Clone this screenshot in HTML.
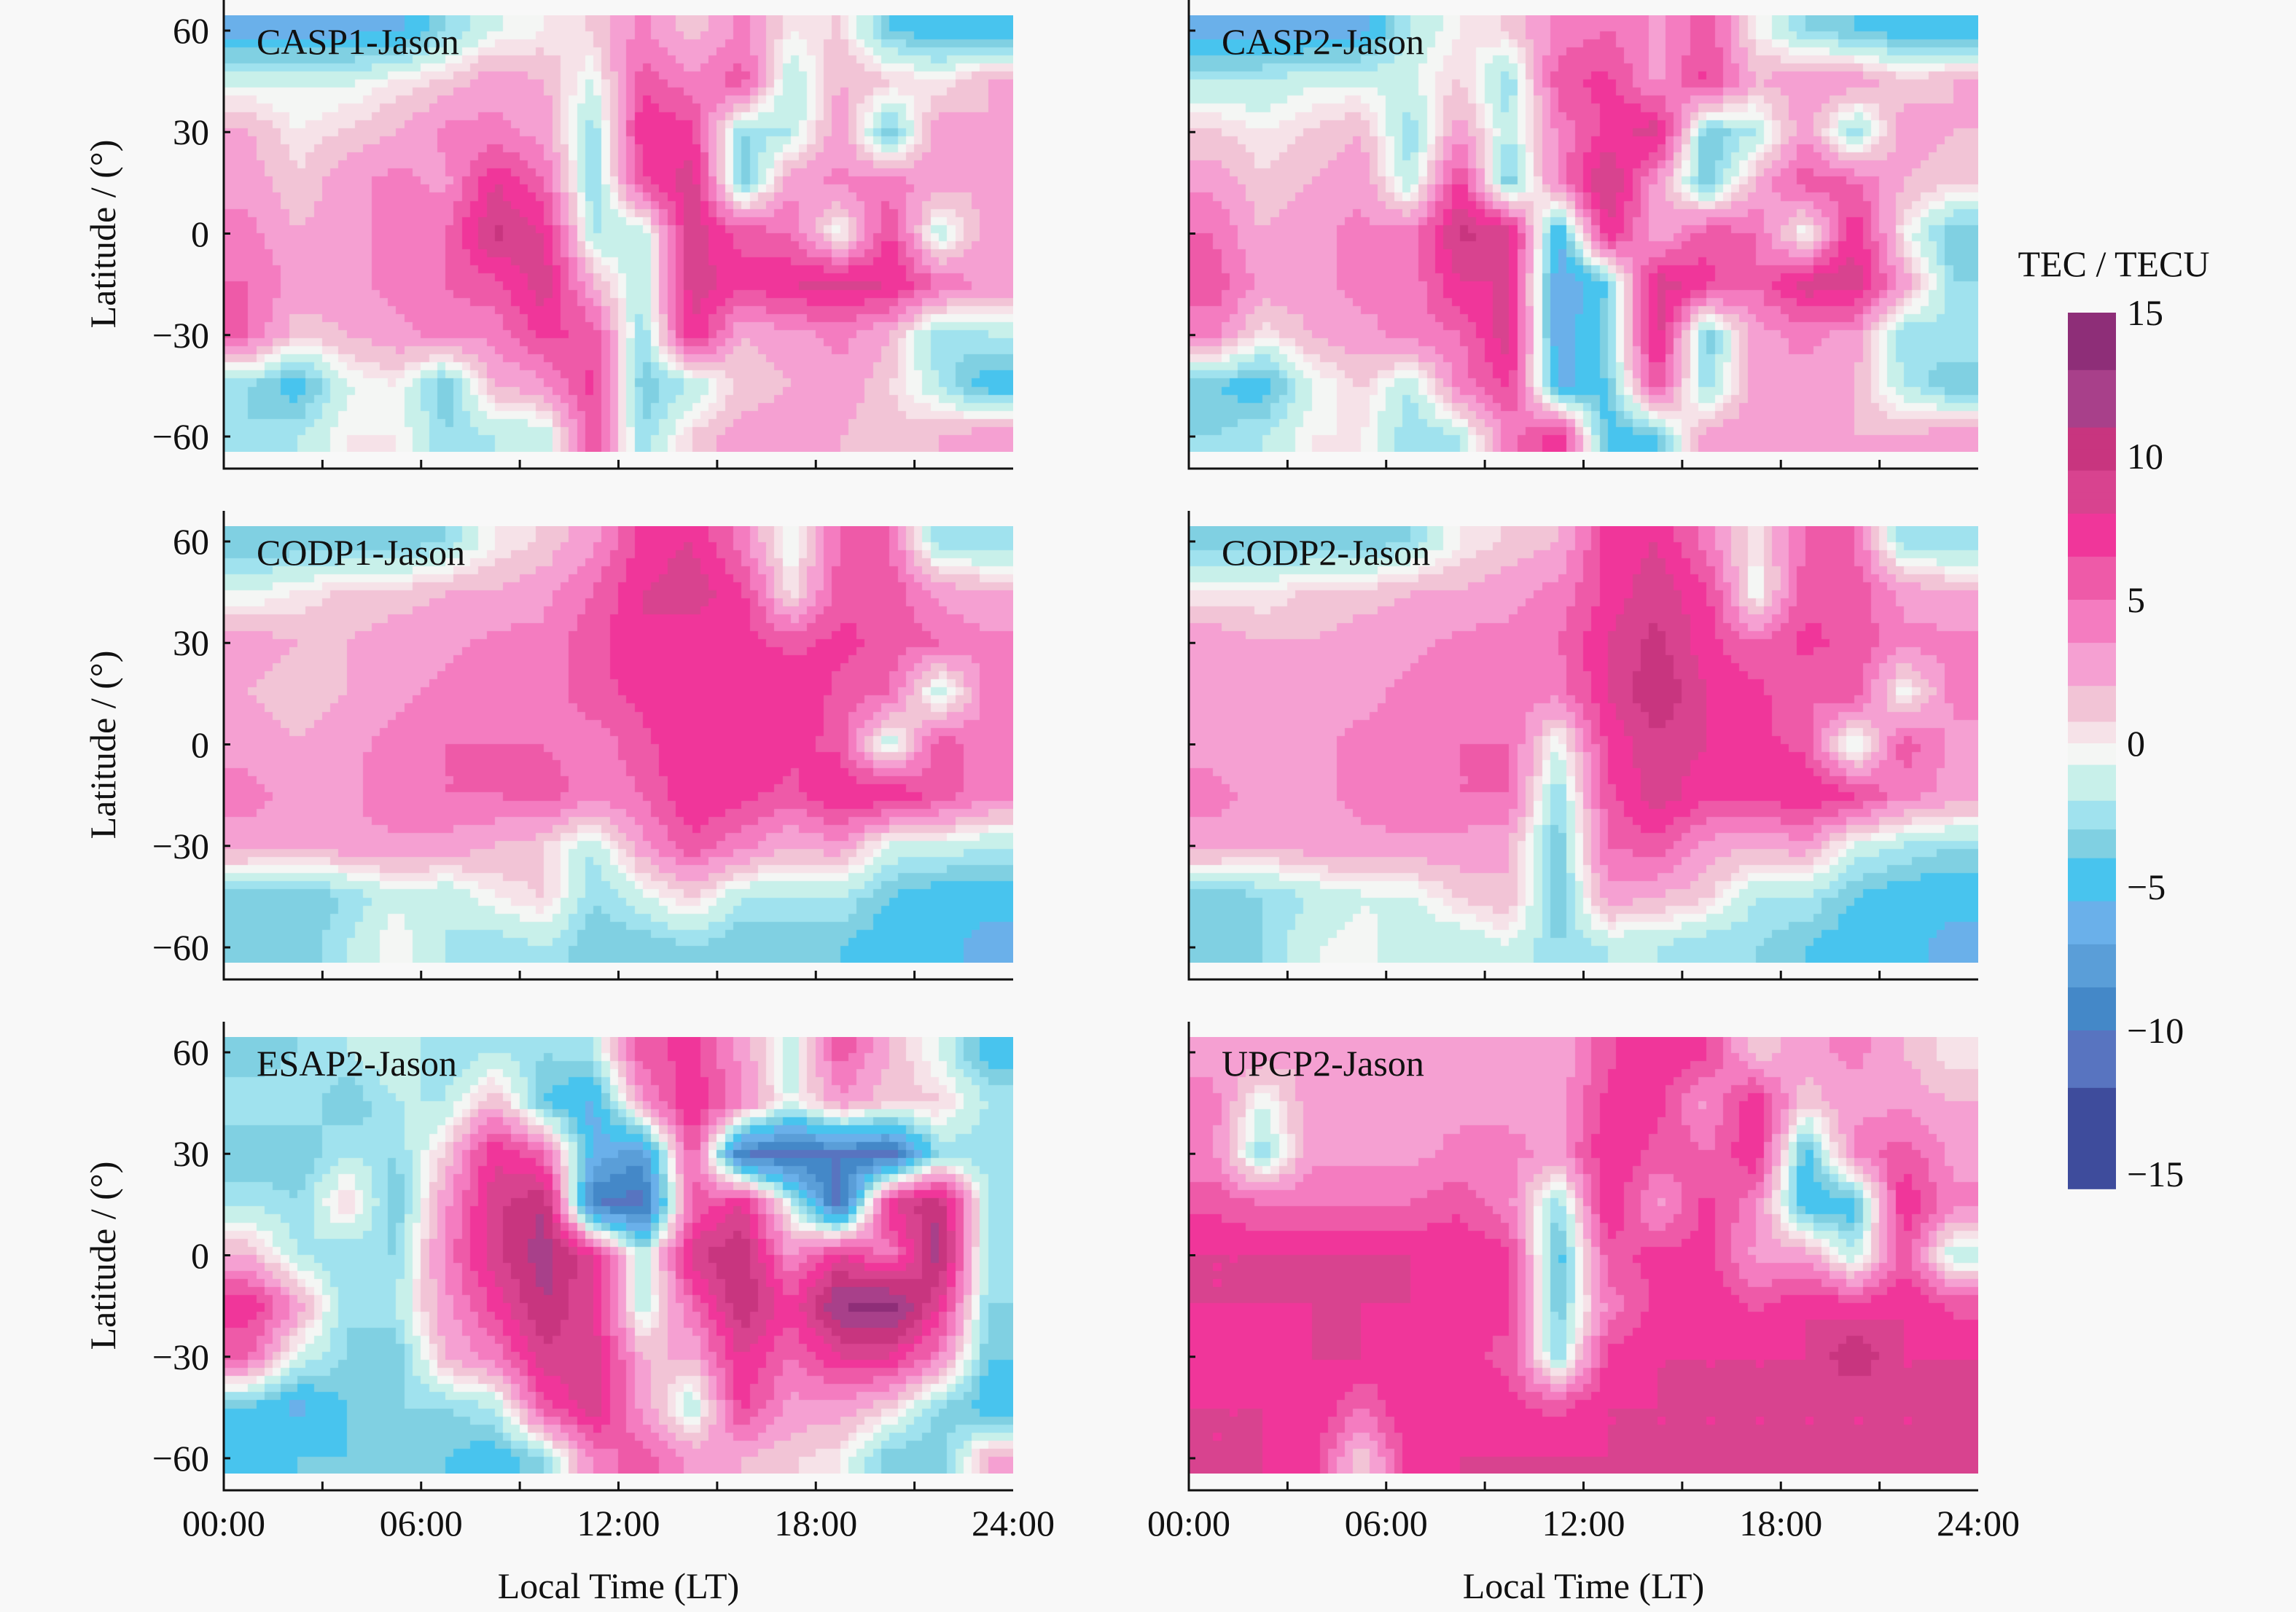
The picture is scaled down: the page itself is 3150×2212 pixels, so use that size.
<!DOCTYPE html>
<html><head><meta charset="utf-8">
<style>
html,body{margin:0;padding:0;background:#f8f8f8;}
#root{position:relative;width:3150px;height:2212px;background:#f8f8f8;overflow:hidden;font-family:"Liberation Serif",serif;color:#111;}
.lbl{position:absolute;font-size:50px;line-height:1;white-space:nowrap;}
canvas{position:absolute;}
</style></head>
<body>
<div id="root">
<svg id="axes" width="3150" height="2212" style="position:absolute;left:0;top:0;z-index:2"></svg>
</div>
<script>
// ---- data: rows are latitudes, columns are local-time bins ----
const latRows = [60,45,30,15,0,-15,-30,-45,-60];
const timeCols = [0.75,2.25,3.75,5.25,6.75,8.25,9.75,11.25,12.75,14.25,15.75,17.25,18.75,20.25,21.75,23.25];
const panelNames = ["CASP1-Jason","CASP2-Jason","CODP1-Jason","CODP2-Jason","ESAP2-Jason","UPCP2-Jason"];
const xTickLabels = ["00:00","06:00","12:00","18:00","24:00"];
const yTickValues = [60,30,0,-30,-60];
const cbarTicks = [15,10,5,0,-5,-10,-15];
const casp1 = [
[-6,-6,-6,-6,-3,-1,0,1,4,1,4,0,1,-4,-5,-5],
[-1,-1,-1,0,1,3,2,-1,6,4,6,-2,2,1,0,2],
[2,0,1,2,4,4,3,-3,8,7,-3,-2,3,-4,3,2],
[3,1,3,4,3,8,5,-3,6,9,-4,3,4,4,3,2],
[4,2,3,4,5,10,8,-2,-2,9,6,5,-1,7,-2,3],
[5,3,3,4,5,6,9,2,-2,9,7,8,9,8,5,3],
[5,1,2,3,4,4,7,6,-3,8,2,3,4,2,-3,-2],
[-3,-5,-1,0,-4,2,3,7,-4,-2,1,2,3,1,-2,-5],
[-3,-2,0,0,-3,-2,-2,6,-3,1,3,3,2,1,2,3]];
const casp2 = [
[-6,-6,-6,-6,-2,0,1,4,5,3,6,0,-3,-4,-5,-5],
[-2,-2,-1,-1,-1,1,-3,6,7,3,7,2,3,3,1,2],
[1,0,1,2,-3,3,-2,4,7,9,-4,-2,3,-3,3,2],
[3,1,2,3,-2,7,-4,4,10,3,-4,2,6,5,2,1],
[5,2,3,4,4,10,9,-6,8,2,6,5,-1,8,0,-4],
[6,3,3,4,4,8,8,-7,-4,9,7,5,9,9,3,-3],
[4,0,2,3,4,5,9,-7,-3,9,-4,3,4,3,-3,-2],
[-4,-5,-1,1,-2,4,7,-6,-4,6,-3,3,3,2,-2,-4],
[-3,-2,0,0,-3,-2,4,8,-5,-4,3,3,2,2,2,3]];
const codp1 = [
[-4,-4,-4,-4,-3,0,1,3,7,8,4,-1,5,5,-3,-3],
[-1,0,1,1,2,2,3,5,8,9,7,0,6,6,3,2],
[3,2,2,3,3,4,4,6,8,7,7,6,7,6,5,4],
[2,1,2,3,4,5,4,6,7,8,7,8,6,5,-2,4],
[3,2,3,4,5,5,5,4,6,8,8,7,6,-2,6,4],
[4,3,3,5,5,5,6,4,5,8,7,6,8,8,6,4],
[3,2,3,3,3,2,1,-2,3,6,4,2,3,-1,-1,-2],
[-4,-4,-3,-1,-2,0,1,-3,-1,1,-2,-2,-2,-4,-5,-5],
[-4,-4,-2,0,-2,-3,-2,-4,-4,-3,-4,-4,-4,-5,-5,-6]];
const codp2 = [
[-4,-4,-4,-4,-3,0,1,2,7,8,4,0,5,5,-3,-3],
[0,0,1,1,2,2,3,4,7,9,7,-1,6,6,3,2],
[3,2,2,3,3,4,4,5,8,10,7,5,7,6,4,4],
[2,2,3,3,4,5,4,4,8,11,8,7,5,6,-1,4],
[3,2,3,4,4,5,5,-1,7,9,8,7,6,-2,6,3],
[4,3,3,4,5,5,5,-3,6,9,7,7,8,7,4,3],
[3,2,3,3,3,3,2,-4,5,6,3,2,3,-1,-2,-3],
[-4,-3,-2,-1,-1,1,2,-4,3,2,1,-2,-2,-4,-5,-5],
[-4,-3,-1,0,-2,-2,-1,-3,-2,-2,-3,-3,-4,-5,-5,-6]];
const esap2 = [
[-4,-3,-2,-1,-3,-2,-3,-2,6,7,3,-2,6,2,-1,-5],
[-2,-2,-4,-2,-2,2,-4,-6,3,8,4,-1,3,1,1,-2],
[-4,-4,-2,-3,1,8,5,-6,-8,6,-10,-11,-10,-11,-3,-3],
[-2,-3,1,-4,3,9,11,-10,-11,5,8,-1,-11,8,11,-2],
[2,-2,-3,-3,4,9,12,8,-2,9,11,3,8,4,12,-3],
[8,3,-3,-2,3,7,11,8,-2,5,11,7,13,14,8,-3],
[5,-1,-3,-4,2,4,9,9,2,2,8,5,8,8,4,-4],
[-4,-6,-4,-3,-3,-2,6,9,3,-2,7,3,3,1,-3,-5],
[-5,-4,-4,-3,-4,-5,-3,4,6,3,2,1,0,-4,-4,2]];
const upcp2 = [
[3,3,2,2,3,3,3,2,6,8,7,1,3,4,2,0],
[4,-1,3,2,3,3,3,3,7,7,3,8,1,3,3,2],
[4,-3,3,3,3,4,4,3,8,6,5,8,-5,4,6,3],
[6,5,5,5,5,6,4,-3,8,3,7,4,-5,-5,8,4],
[8,8,8,8,8,8,7,-5,6,7,7,3,3,-2,6,-2],
[8,8,8,8,8,7,7,-4,4,7,8,6,8,7,8,6],
[7,7,8,8,7,7,6,-3,7,8,8,8,8,11,8,8],
[8,8,8,5,8,8,7,6,8,8,8,8,8,8,8,8],
[8,8,7,1,7,8,8,8,8,8,8,8,8,8,8,8]];
const panelData = [casp1,casp2,codp1,codp2,esap2,upcp2];

// colour map
const cmapLevels = [13,11,9.5,8,6.5,5,3.5,2,0.8,0,-0.8,-2,-3,-4,-5.5,-7,-8.5,-10,-12];
const cmapColors = ["#8e2e78","#a8408a","#c8357f","#d8438f","#f0369a","#ee5aa8","#f47cc0","#f5a0d2","#f2c4d6","#f6e2e8","#f4f6f4","#c8f0ea","#a0e2ee","#80d0e2","#48c4ee","#6ab0ea","#5a9ed8","#4488c8","#5874c0","#3e4c9c"];
function colorOf(v){for(let i=0;i<cmapLevels.length;i++){if(v>=cmapLevels[i])return cmapColors[i];}return cmapColors[cmapColors.length-1];}

const NS="http://www.w3.org/2000/svg";
const svg=document.getElementById('axes');
const root=document.getElementById('root');
function sv(tag,attrs){const e=document.createElementNS(NS,tag);for(const k in attrs)e.setAttribute(k,attrs[k]);svg.appendChild(e);return e;}
function lbl(text,x,y,align,extra){const d=document.createElement('div');d.className='lbl';d.textContent=text;d.style.left=x+'px';d.style.top=y+'px';
 d.style.transform=(align==='r'?'translate(-100%,-50%)':align==='c'?'translate(-50%,-50%)':'translate(0,-50%)')+(extra||'');root.appendChild(d);return d;}

const colX=[307,1631], colW=1083;
const rowY60=[42,743,1444]; // y of lat 60
const degPx=557/120;
function interp(grid,t,lat){
 let fc=(t-timeCols[0])/1.5; fc=Math.max(0,Math.min(timeCols.length-1,fc));
 let fr=(latRows[0]-lat)/15; fr=Math.max(0,Math.min(latRows.length-1,fr));
 const c0=Math.floor(fc),r0=Math.floor(fr),c1=Math.min(c0+1,timeCols.length-1),r1=Math.min(r0+1,latRows.length-1);
 const dc=fc-c0,dr=fr-r0;
 return grid[r0][c0]*(1-dc)*(1-dr)+grid[r0][c1]*dc*(1-dr)+grid[r1][c0]*(1-dc)*dr+grid[r1][c1]*dc*dr;
}
panelData.forEach((grid,p)=>{
 const col=p%2,row=Math.floor(p/2);
 const x0=colX[col], yl0=rowY60[row];
 const xScale=t=>x0+t/24*colW;
 const yScale=lat=>yl0+(60-lat)*degPx;
 const top=yScale(64.5), bot=yScale(-64.5);
 const cv=document.createElement('canvas');
 
 
 cv.width=colW; cv.height=Math.round(bot-top);
 cv.style.left=x0+'px'; cv.style.top=top+'px';
 root.appendChild(cv);
 const ctx=cv.getContext('2d');
 const nT=96,nL=54;
 for(let i=0;i<nT;i++){for(let j=0;j<nL;j++){
  const t=(i+0.5)*24/nT, lat=64.5-(j+0.5)*129/nL;
  ctx.fillStyle=colorOf(interp(grid,t,lat));
  const xa=xScale(i*24/nT)-x0, xb=xScale((i+1)*24/nT)-x0;
  const ya=yScale(64.5-j*129/nL)-top, yb=yScale(64.5-(j+1)*129/nL)-top;
  ctx.fillRect(Math.floor(xa),Math.floor(ya),Math.ceil(xb-xa)+1,Math.ceil(yb-ya)+1);
 }}
 // axes
 const axisY=yl0+601, axTop=yl0-42;
 const ax=sv('path',{d:`M${x0} ${axTop} V${axisY} H${x0+colW}`,stroke:'#111','stroke-width':3,fill:'none'});
 
 
 for(let h=3;h<24;h+=3){const tk=sv('line',{x1:xScale(h),x2:xScale(h),y1:axisY,y2:axisY-12,stroke:'#111','stroke-width':3});
  
  }
 yTickValues.forEach(v=>{const tk=sv('line',{x1:x0,x2:x0+9,y1:yScale(v),y2:yScale(v),stroke:'#111','stroke-width':3});
  
  
  if(col===0){const l=lbl(String(v).replace('-','\u2212'),287,yScale(v),'r');
   
   }});
 const pl=lbl(panelNames[p],x0+45,yl0+15,'l');
 
 
 if(col===0){const yt=lbl('Latitude / (\u00b0)',141,yScale(0),'c',' rotate(-90deg)');
  
  }
 if(row===2){xTickLabels.forEach((s,k)=>{const l=lbl(s,xScale(k*6),2090,'c');
   
   });
  const xt=lbl('Local Time (LT)',x0+colW/2,2176,'c');
  
  }
});
// colour bar
const cbScale=v=>1020-v*39.4;
for(let v=15;v>-15.3;v-=0.25){const r=sv('rect',{x:2837,y:cbScale(v),width:66,height:40*0.25+1,fill:colorOf(v-0.125)});
 
 }
cbarTicks.forEach(v=>{const l=lbl(String(v).replace('-','\u2212'),2918,cbScale(v),'l');
 
 });
const ct=lbl('TEC / TECU',2900,362,'c');


</script>
</body></html>
